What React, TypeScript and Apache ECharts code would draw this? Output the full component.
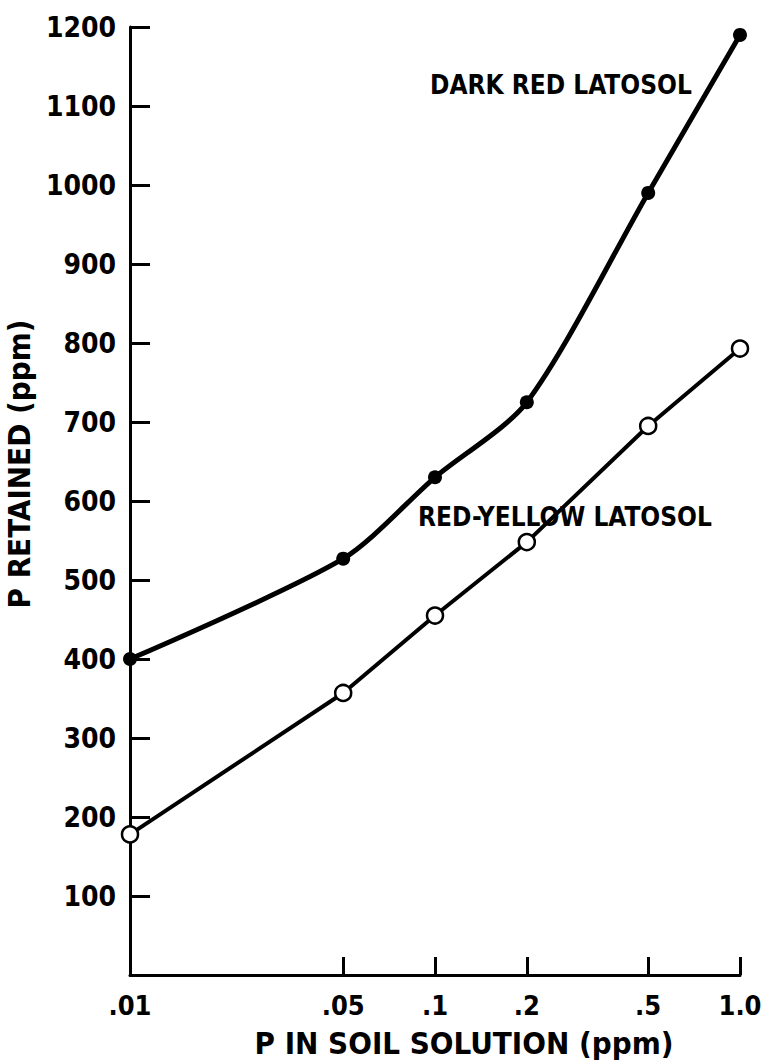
import React, { useEffect, useRef } from "react";
import * as echarts from "echarts";

const xValues = [0.01, 0.05, 0.1, 0.2, 0.5, 1.0];
const xTickLabels = [".01", ".05", ".1", ".2", ".5", "1.0"];
const darkRedLatosol = [400, 527, 630, 725, 990, 1190];
const redYellowLatosol = [178, 357, 455, 548, 695, 793];
const seriesNames = ["DARK RED LATOSOL", "RED-YELLOW LATOSOL"];
const xAxisTitle = "P IN SOIL SOLUTION (ppm)";
const yAxisTitle = "P RETAINED (ppm)";

const FONT = "'DejaVu Sans Condensed', 'DejaVu Sans', sans-serif";

export default function App() {
  const ref = useRef<HTMLDivElement>(null);
  useEffect(() => {
    if (!ref.current) return;
    const chart = echarts.init(ref.current, null, { renderer: "svg" });
    const labelFor = (v: number) => {
      for (let i = 0; i < xValues.length; i++) {
        if (Math.abs(v / xValues[i] - 1) < 1e-6) return xTickLabels[i];
      }
      return "";
    };
    chart.setOption({
      animation: false,
      backgroundColor: "#ffffff",
      grid: { left: 130, right: 23, top: 27, bottom: 87, outerBoundsMode: "none", containLabel: false },
      xAxis: {
        type: "log",
        logBase: 10,
        min: 0.01,
        max: 1,
        name: xAxisTitle,
        nameLocation: "middle",
        nameGap: 52,
        nameTextStyle: { fontFamily: FONT, fontWeight: "bold", fontSize: 31, color: "#000", padding: [0, 0, 0, 58] },
        axisLine: { lineStyle: { color: "#000", width: 3 } },
        axisTick: { inside: true, length: 18, customValues: xValues, lineStyle: { color: "#000", width: 3 } },
        axisLabel: { customValues: xValues, formatter: (v: number) => labelFor(v), fontFamily: FONT, fontWeight: "bold", fontSize: 27, color: "#000", margin: 17 },
        splitLine: { show: false },
        minorTick: { show: false },
      },
      yAxis: {
        type: "value",
        min: 0,
        max: 1200,
        interval: 100,
        name: yAxisTitle,
        nameLocation: "middle",
        nameRotate: 90,
        nameGap: 96,
        nameTextStyle: { fontFamily: FONT, fontWeight: "bold", fontSize: 31, color: "#000", padding: [0, 0, 0, 74] },
        axisLine: { show: true, lineStyle: { color: "#000", width: 3 } },
        axisTick: { show: true, inside: true, length: 20, lineStyle: { color: "#000", width: 3 } },
        axisLabel: { formatter: (v: number) => (v === 0 ? "" : String(v)), fontFamily: FONT, fontWeight: "bold", fontSize: 28, color: "#000", margin: 14 },
        splitLine: { show: false },
      },
      graphic: [
        { type: "text", left: 430, top: 72, style: { text: seriesNames[0], font: `bold 26px ${FONT}`, fill: "#000" } },
        { type: "text", left: 418, top: 504, style: { text: seriesNames[1], font: `bold 26px ${FONT}`, fill: "#000" } },
      ],
      series: [
        {
          name: seriesNames[0],
          type: "line",
          data: xValues.map((x, i) => [x, darkRedLatosol[i]]),
          smooth: 0.27,
          symbol: "circle",
          symbolSize: 14,
          lineStyle: { color: "#000", width: 5 },
          itemStyle: { color: "#000" },
          z: 3,
        },
        {
          name: seriesNames[1],
          type: "line",
          data: xValues.map((x, i) => [x, redYellowLatosol[i]]),
          smooth: false,
          symbol: "circle",
          symbolSize: 16,
          showAllSymbol: true,
          lineStyle: { color: "#000", width: 4 },
          itemStyle: { color: "#fff", borderColor: "#000", borderWidth: 2.5 },
          z: 3,
        },
      ],
    });
    return () => chart.dispose();
  }, []);
  return <div ref={ref} style={{ position: "absolute", left: 0, top: 0, width: 763, height: 1062 }} />;
}
